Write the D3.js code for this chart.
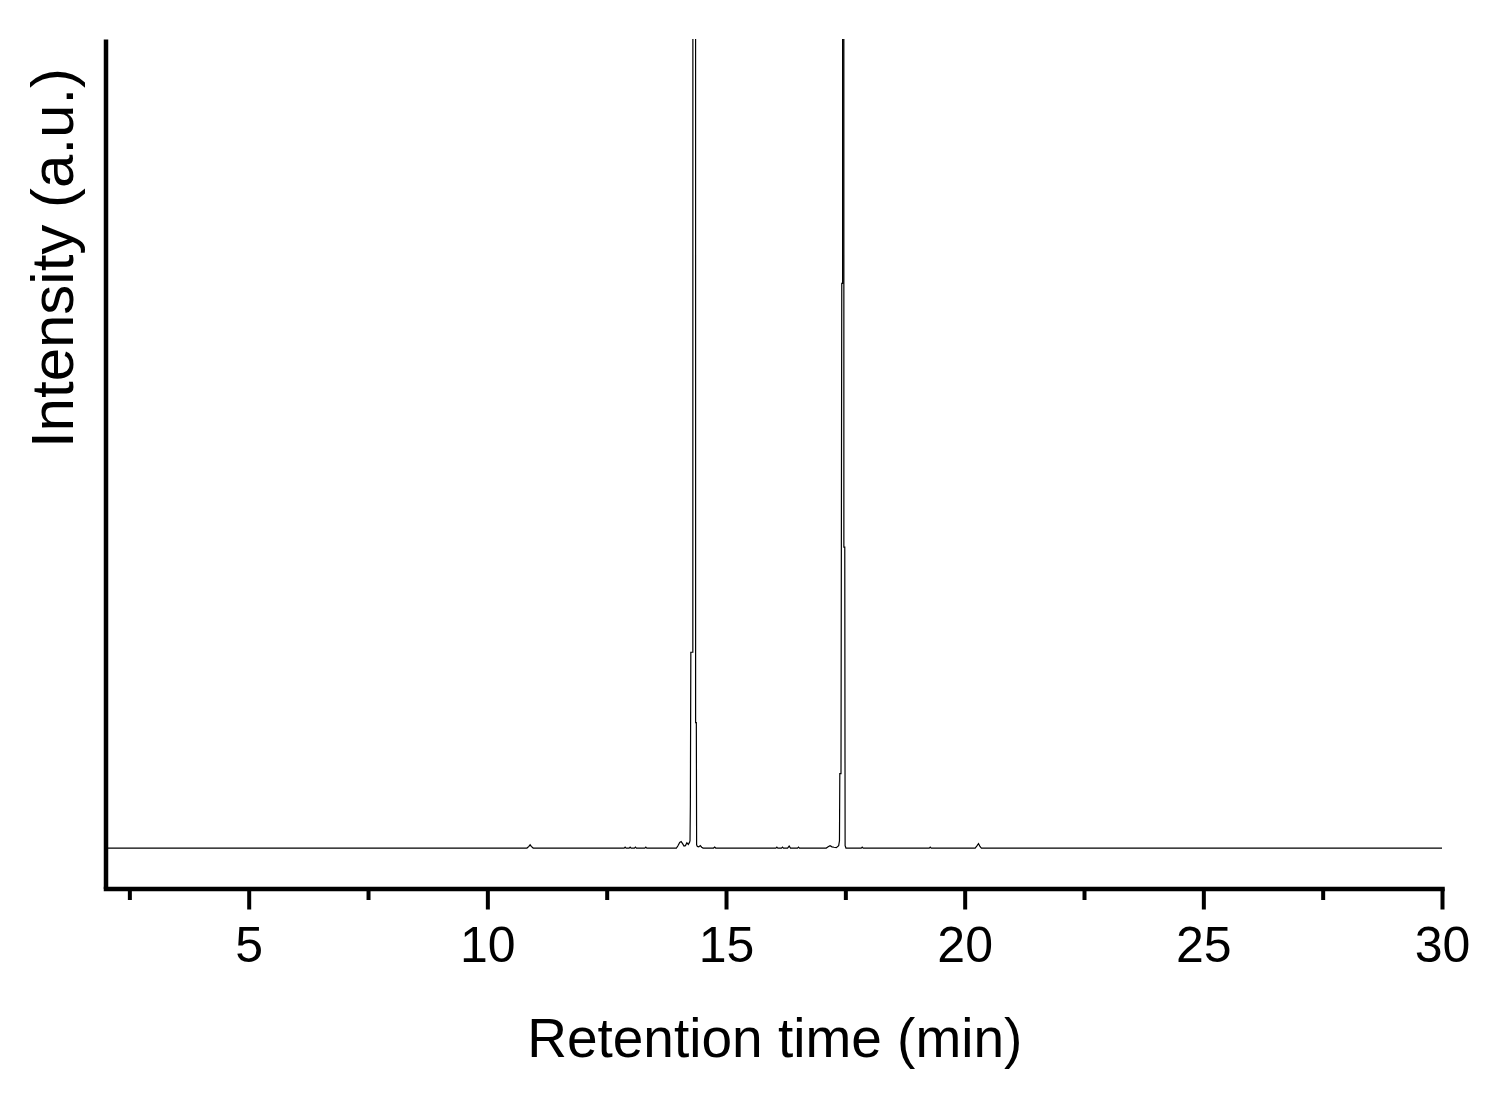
<!DOCTYPE html>
<html>
<head>
<meta charset="utf-8">
<script src="https://d3js.org/d3.v7.min.js"></script>
<style>
  html, body { margin: 0; padding: 0; background: #fff; }
  svg { display: block; }
  text { font-family: "Liberation Sans", Arial, Helvetica, sans-serif; fill: #000; }
</style>
</head>
<body>
<svg id="chart" width="1491" height="1096"></svg>
<script>
// ---- data ----
const retentionTimes = [
  2.0,
  10.83, 10.87, 10.896, 10.92, 10.96,
  12.866, 12.886, 12.906,
  12.971, 12.991, 13.011,
  13.082, 13.102, 13.122,
  13.300, 13.320, 13.340,
  13.96, 13.99, 14.03, 14.06, 14.09, 14.12, 14.15, 14.18, 14.21, 14.235, 14.246,
  14.253, 14.263, 14.305, 14.335, 14.363, 14.378, 14.384, 14.40, 14.43, 14.46, 14.49, 14.52,
  14.74, 14.762, 14.784,
  16.045, 16.065, 16.085,
  16.163, 16.183, 16.203,
  16.29, 16.323, 16.35,
  16.498, 16.518, 16.538,
  17.10, 17.14, 17.18, 17.22, 17.26, 17.31, 17.36, 17.377, 17.384, 17.409, 17.425,
  17.442, 17.457, 17.469, 17.488, 17.495, 17.513,
  17.833, 17.853, 17.873,
  19.258, 19.278, 19.298,
  20.22, 20.26, 20.29, 20.32, 20.35,
  30.0
];
const intensities = [
  0,
  0, 0.2, 0.4, 0.2, 0,
  0, 0.12, 0,
  0, 0.12, 0,
  0, 0.12, 0,
  0, 0.12, 0,
  0, 0.25, 0.7, 0.8, 0.55, 0.25, 0.3, 0.65, 0.45, 0.7, 0.9,
  5.4, 24.2, 24.2, 3000, 15.5, 15.5, 0.4, 0.2, 0.15, 0.3, 0.1, 0,
  0, 0.12, 0,
  0, 0.12, 0,
  0, 0.12, 0,
  0, 0.25, 0,
  0, 0.12, 0,
  0, 0.15, 0.3, 0.15, 0.1, 0.05, 0.3, 0.9, 9.2, 9.2, 69.8,
  69.8, 3000, 37.2, 37.2, 0.3, 0,
  0, 0.12, 0,
  0, 0.12, 0,
  0, 0.3, 0.55, 0.2, 0,
  0
];
const majorTicks = [5, 10, 15, 20, 25, 30];
const majorTickLabels = ["5", "10", "15", "20", "25", "30"];
const minorTicks = [2.5, 7.5, 12.5, 17.5, 22.5, 27.5];
const xTitle = "Retention time (min)";
const yTitle = "Intensity (a.u.)";

// ---- drawing ----
const svg = d3.select("#chart");
const x = d3.scaleLinear().domain([2, 30]).range([105.5, 1442]);
const y = d3.scaleLinear().domain([-5, 100]).range([888.5, 39]);

const points = retentionTimes.map((t, i) => ({ t: t, v: intensities[i] }));

svg.append("defs").append("clipPath").attr("id", "plotClip")
  .append("rect")
  .attr("x", x(2)).attr("y", y(100))
  .attr("width", x(30) - x(2) + 2).attr("height", y(-5) - y(100));

const line = d3.line().x(d => x(d.t)).y(d => y(d.v));
svg.append("path")
  .datum(points)
  .attr("clip-path", "url(#plotClip)")
  .attr("fill", "none")
  .attr("stroke", "#000")
  .attr("stroke-width", 1.2)
  .attr("stroke-linejoin", "miter")
  .attr("d", line);

// minor ticks
const minorAxis = svg.append("g")
  .attr("transform", `translate(0,${y(-5)})`)
  .call(d3.axisBottom(x).tickValues(minorTicks).tickSize(11.5).tickFormat(""));
minorAxis.select(".domain").remove();
minorAxis.selectAll(".tick line").attr("stroke", "#000").attr("stroke-width", 4);

// major ticks + labels
const xAxis = svg.append("g")
  .attr("transform", `translate(0,${y(-5)})`)
  .call(d3.axisBottom(x).tickValues(majorTicks).tickSize(21).tickSizeOuter(0)
    .tickFormat((d, i) => majorTickLabels[i]));
xAxis.select(".domain").attr("stroke", "#000").attr("stroke-width", 4.5).attr("stroke-linecap", "square");
xAxis.selectAll(".tick line").attr("stroke", "#000").attr("stroke-width", 4);
xAxis.selectAll(".tick text")
  .attr("y", 73.5).attr("dy", null)
  .style("font-size", "50px")
  .style("font-family", '"Liberation Sans", Arial, sans-serif');

// left axis (no ticks)
const yAxis = svg.append("g")
  .attr("transform", `translate(${x(2)},0)`)
  .call(d3.axisLeft(y).tickValues([]).tickSizeOuter(0));
yAxis.select(".domain").attr("stroke", "#000").attr("stroke-width", 4.5).attr("stroke-linecap", "butt");

// titles
svg.append("text")
  .attr("x", (x(2) + x(30)) / 2 + 1)
  .attr("y", 1057)
  .attr("text-anchor", "middle")
  .style("font-size", "55px")
  .text(xTitle);

svg.append("text")
  .attr("transform", `translate(73,258) rotate(-90)`)
  .attr("text-anchor", "middle")
  .style("font-size", "60px")
  .text(yTitle);
</script>
</body>
</html>
